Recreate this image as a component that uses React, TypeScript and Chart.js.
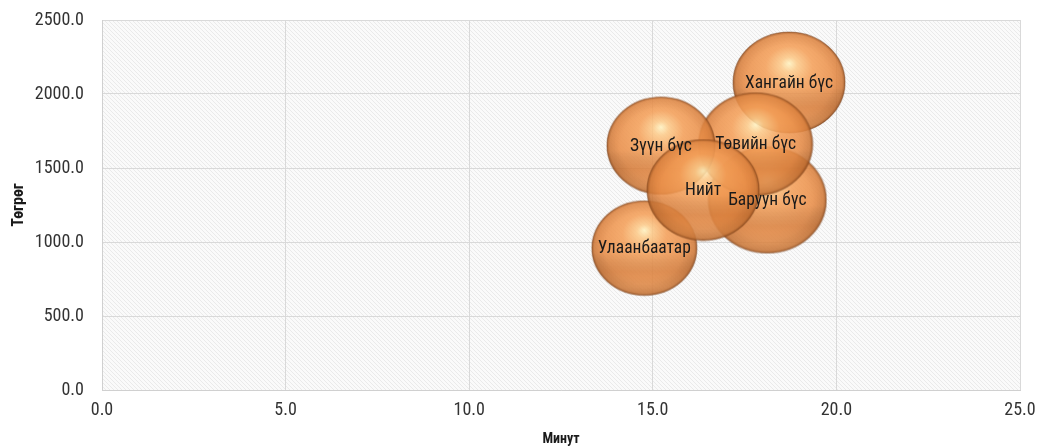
import React, { useEffect, useRef } from 'react';
import { Chart, registerables } from 'chart.js';

Chart.register(...registerables);

// ---- data ----
const regions = ['Улаанбаатар', 'Баруун бүс', 'Хангайн бүс', 'Төвийн бүс', 'Зүүн бүс', 'Нийт'];
const minutes = [14.77, 18.12, 18.71, 17.8, 15.22, 16.37];
const tugrug = [959, 1284, 2078, 1662, 1652, 1351];
const bubbleSize = [52.5, 59, 56, 57, 54, 56];
const xTickValues = [0, 5, 10, 15, 20, 25];
const yTickValues = [0, 500, 1000, 1500, 2000, 2500];
const xTitle = 'Минут';
const yTitle = 'Төгрөг';

const FONT = "'Roboto Condensed', 'Liberation Sans Narrow', 'DejaVu Sans Condensed', 'Arial Narrow', sans-serif";

const imageCache: Record<string, HTMLCanvasElement> = {};
function bubbleImage(r: number): HTMLCanvasElement {
  const key = r.toFixed(2);
  if (imageCache[key]) return imageCache[key];
  const rx = r;
  const ry = r * 0.9;
  const c = document.createElement('canvas');
  c.width = Math.ceil(rx * 2 + 2);
  c.height = Math.ceil(ry * 2 + 2);
  const g = c.getContext('2d')!;
  const cx = c.width / 2;
  const cy = c.height / 2;
  g.save();
  g.translate(cx, cy);
  g.scale(1, ry / rx);
  g.globalAlpha = 0.87;
  g.beginPath();
  g.arc(0, 0, rx, 0, Math.PI * 2);
  g.closePath();
  const base = g.createRadialGradient(0, -rx * 0.38, 0, 0, -rx * 0.15, rx * 1.2);
  base.addColorStop(0, '#fff2c0');
  base.addColorStop(0.12, '#fcc988');
  base.addColorStop(0.35, '#f49f58');
  base.addColorStop(0.7, '#e88c46');
  base.addColorStop(1, '#c47234');
  g.fillStyle = base;
  g.fill();
  const lin = g.createLinearGradient(0, -rx, 0, rx);
  lin.addColorStop(0, 'rgba(0,0,0,0)');
  lin.addColorStop(0.55, 'rgba(0,0,0,0)');
  lin.addColorStop(0.75, 'rgba(150,70,20,0.18)');
  lin.addColorStop(0.92, 'rgba(255,190,130,0.15)');
  lin.addColorStop(1, 'rgba(255,190,130,0.1)');
  g.fillStyle = lin;
  g.fill();
  const rim = g.createRadialGradient(0, 0, rx * 0.75, 0, 0, rx);
  rim.addColorStop(0, 'rgba(120,55,15,0)');
  rim.addColorStop(0.8, 'rgba(120,55,15,0.12)');
  rim.addColorStop(1, 'rgba(100,45,10,0.5)');
  g.fillStyle = rim;
  g.fill();
  g.globalAlpha = 1;
  g.lineWidth = 1 * (rx / ry);
  g.strokeStyle = 'rgba(110,55,20,0.45)';
  g.stroke();
  g.restore();
  imageCache[key] = c;
  return c;
}

function hatchPattern(ctx: CanvasRenderingContext2D): CanvasPattern | string {
  const p = document.createElement('canvas');
  p.width = 4;
  p.height = 4;
  const g = p.getContext('2d')!;
  g.fillStyle = '#fafafa';
  g.fillRect(0, 0, 4, 4);
  g.strokeStyle = '#eaeaea';
  g.lineWidth = 1;
  g.beginPath();
  g.moveTo(0, 0);
  g.lineTo(4, 4);
  g.moveTo(-1, 3);
  g.lineTo(1, 5);
  g.moveTo(3, -1);
  g.lineTo(5, 1);
  g.stroke();
  return ctx.createPattern(p, 'repeat') || '#f4f4f4';
}

const bgPlugin = {
  id: 'hatchBg',
  beforeDraw(chart: any) {
    const { ctx, chartArea } = chart;
    ctx.save();
    ctx.fillStyle = hatchPattern(ctx);
    ctx.fillRect(chartArea.left, chartArea.top, chartArea.right - chartArea.left, chartArea.bottom - chartArea.top);
    ctx.restore();
  },
};

const labelPlugin = {
  id: 'bubbleLabels',
  afterDatasetsDraw(chart: any) {
    const { ctx } = chart;
    const meta = chart.getDatasetMeta(0);
    ctx.save();
    ctx.font = `17.5px ${FONT}`;
    ctx.fillStyle = '#1a1a1a';
    ctx.textAlign = 'center';
    ctx.textBaseline = 'middle';
    meta.data.forEach((el: any, i: number) => {
      ctx.fillText(regions[i], el.x, el.y + 1);
    });
    ctx.restore();
  },
};

export default function App() {
  const ref = useRef<HTMLCanvasElement | null>(null);
  useEffect(() => {
    if (!ref.current) return;
    const chart = new Chart(ref.current, {
      type: 'bubble',
      data: {
        datasets: [
          {
            label: 'Бүс',
            data: regions.map((_, i) => ({ x: minutes[i], y: tugrug[i], size: bubbleSize[i] })),
            pointStyle: (ctx: any) => bubbleImage((ctx.raw && ctx.raw.size) || 50),
            radius: 3,
            backgroundColor: 'rgba(230,140,70,0.8)',
            borderWidth: 0,
            clip: false as any,
          },
        ],
      },
      options: {
        animation: false,
        responsive: true,
        maintainAspectRatio: false,
        layout: { padding: { top: 20, right: 24, left: 0, bottom: 0 } },
        plugins: {
          legend: { display: false },
          tooltip: { enabled: false },
        },
        scales: {
          x: {
            type: 'linear',
            min: 0,
            max: 25,
            afterBuildTicks: (scale: any) => {
              scale.ticks = xTickValues.map((v) => ({ value: v }));
            },
            afterFit: (scale: any) => {
              scale.height = 56;
              scale.paddingLeft = 0;
              scale.paddingRight = 0;
            },
            grid: { color: '#d9d9d9', lineWidth: 1, drawTicks: false },
            border: { color: '#d0d0d0', width: 1 },
            ticks: {
              padding: 10,
              color: '#333',
              font: { family: FONT, size: 18 },
              callback: (v: any) => Number(v).toFixed(1),
            },
            title: {
              display: true,
              text: xTitle,
              color: '#1a1a1a',
              font: { family: FONT, size: 14, weight: 'bold' },
              padding: { top: 0, bottom: -2 },
            },
          },
          y: {
            type: 'linear',
            min: 0,
            max: 2500,
            afterBuildTicks: (scale: any) => {
              scale.ticks = yTickValues.map((v) => ({ value: v }));
            },
            afterFit: (scale: any) => {
              scale.width = 102;
              scale.paddingTop = 0;
              scale.paddingBottom = 0;
            },
            grid: { color: '#d9d9d9', lineWidth: 1, drawTicks: false },
            border: { color: '#d0d0d0', width: 1 },
            ticks: {
              padding: 18,
              color: '#333',
              font: { family: FONT, size: 18 },
              callback: (v: any) => Number(v).toFixed(1),
            },
            title: {
              display: true,
              text: yTitle,
              color: '#1a1a1a',
              font: { family: FONT, size: 16, weight: 'bold' },
              padding: { top: 9, bottom: 0 },
            },
          },
        },
      },
      plugins: [bgPlugin, labelPlugin],
    });
    return () => chart.destroy();
  }, []);
  return (
    <div style={{ position: 'fixed', left: 0, top: 0, width: 1044, height: 446, background: '#fff' }}>
      <canvas ref={ref} />
    </div>
  );
}
